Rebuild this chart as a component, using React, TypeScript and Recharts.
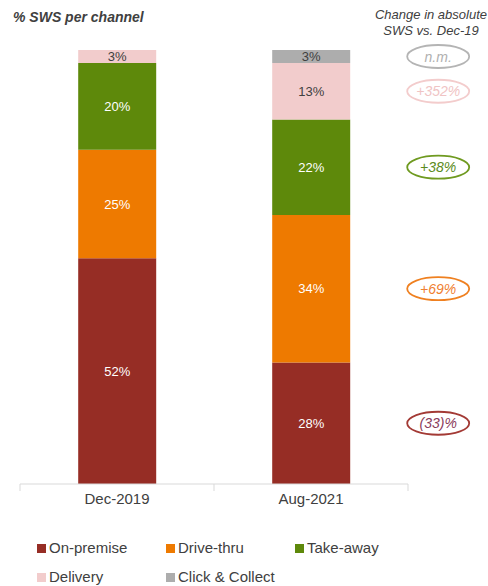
import React from "react";
import { BarChart, Bar, XAxis, YAxis, LabelList } from "recharts";

const categories = ["Dec-2019", "Aug-2021"];
const onPremise = [52, 28];
const driveThru = [25, 34];
const takeAway = [20, 22];
const delivery = [3, 13];
const clickCollect = [0, 3];
const yTicks = [0, 10, 20, 30, 40, 50, 60, 70, 80, 90, 100];

const seriesNames = ["On-premise", "Drive-thru", "Take-away", "Delivery", "Click & Collect"];
const seriesColors = ["#962d25", "#ee7a00", "#5e890b", "#f2cccc", "#adadad"];
const labelColors = ["#ffffff", "#ffffff", "#ffffff", "#404040", "#404040"];
const changeLabels = ["(33)%", "+69%", "+38%", "+352%", "n.m."];
const changeStroke = ["#a33a35", "#ef8020", "#6f9a20", "#f3cccc", "#b4b4b4"];
const changeText = ["#8a3a5a", "#f08030", "#5a8a20", "#f0c4c4", "#b0b0b0"];

const keys = ["onPremise", "driveThru", "takeAway", "delivery", "clickCollect"];
const values = [onPremise, driveThru, takeAway, delivery, clickCollect];

const data = categories.map((c, i) => {
  const row: Record<string, string | number> = { category: c };
  keys.forEach((k, j) => (row[k] = values[j][i]));
  return row;
});

const FONT = "'Liberation Sans', Arial, sans-serif";

const inner = (color: string) => (props: any) => {
  const { x, y, width, height, value } = props;
  if (!value) return null;
  return (
    <text
      x={x + width / 2}
      y={y + height / 2}
      textAnchor="middle"
      dominantBaseline="central"
      fill={color}
      fontSize={13}
      fontFamily={FONT}
    >
      {value}%
    </text>
  );
};

// change annotation only next to the latest period
const change = (s: number) => (props: any) => {
  const { x, y, width, height, value } = props;
  if (value !== categories[categories.length - 1]) return null;
  const cx = x + width + 88;
  const cy = y + height / 2;
  return (
    <g>
      <ellipse cx={cx} cy={cy} rx={31} ry={11.5} fill="#fff" stroke={changeStroke[s]} strokeWidth={1.8} />
      <text
        x={cx}
        y={cy}
        textAnchor="middle"
        dominantBaseline="central"
        fill={changeText[s]}
        fontSize={14}
        fontStyle="italic"
        fontFamily={FONT}
      >
        {changeLabels[s]}
      </text>
    </g>
  );
};

const XTick = (props: any) => {
  const { x, y, payload, width, visibleTicksCount } = props;
  const half = width / visibleTicksCount / 2;
  return (
    <g>
      <line x1={x - half} x2={x - half} y1={y - 8} y2={y - 1} stroke="#d9d9d9" />
      {payload.index === visibleTicksCount - 1 && (
        <line x1={x + half} x2={x + half} y1={y - 8} y2={y - 1} stroke="#d9d9d9" />
      )}
      <text x={x} y={y + 12} textAnchor="middle" fill="#404040" fontSize={15} fontFamily={FONT}>
        {payload.value}
      </text>
    </g>
  );
};

export default function App() {
  return (
    <div style={{ position: "absolute", top: 0, left: 0, width: 488, height: 586, background: "#fff", fontFamily: FONT }}>
      <div style={{ position: "absolute", left: 13, top: 9, fontSize: 14, fontWeight: "bold", fontStyle: "italic", color: "#404040" }}>
        % SWS per channel
      </div>
      <div
        style={{
          position: "absolute",
          left: 371,
          top: 7,
          width: 120,
          textAlign: "center",
          fontSize: 13,
          lineHeight: "16px",
          fontStyle: "italic",
          color: "#404040",
        }}
      >
        Change in absolute
        <br />
        SWS vs. Dec-19
      </div>
      <BarChart
        width={488}
        height={586}
        data={data}
        margin={{ top: 50, right: 80, left: 0, bottom: 72 }}
        barCategoryGap="30%"
      >
        <YAxis
          domain={[0, 100]}
          ticks={yTicks}
          width={20}
          axisLine={false}
          tick={false}
          tickSize={3}
          tickLine={{ stroke: "#eeeeee" }}
        />
        <XAxis
          dataKey="category"
          height={30}
          axisLine={{ stroke: "#d9d9d9" }}
          tickLine={false}
          tick={<XTick />}
          interval={0}
        />
        {keys.map((k, s) => (
          <Bar key={k} dataKey={k} stackId="a" fill={seriesColors[s]} isAnimationActive={false}>
            <LabelList dataKey={k} content={inner(labelColors[s])} />
            <LabelList dataKey="category" content={change(s)} />
          </Bar>
        ))}
      </BarChart>
      <div style={{ position: "absolute", left: 37, top: 539, width: 420, display: "flex", flexWrap: "wrap", rowGap: 11 }}>
        {seriesNames.map((n, s) => (
          <div key={n} style={{ width: 129, display: "flex", alignItems: "center", fontSize: 15, color: "#404040", lineHeight: "18px" }}>
            <span style={{ width: 9, height: 9, background: seriesColors[s], marginRight: 3, display: "inline-block" }} />
            {n}
          </div>
        ))}
      </div>
    </div>
  );
}
